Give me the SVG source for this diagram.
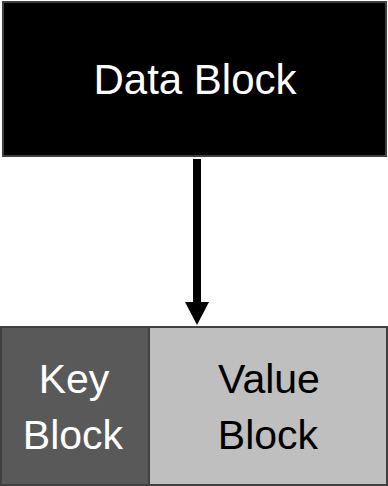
<svg xmlns="http://www.w3.org/2000/svg" width="388" height="486" viewBox="0 0 388 486">
  <style>
    .lbl { font-family: "Liberation Sans", Arial, sans-serif; font-size: 41px; text-anchor: middle; }
    .light { fill: #ffffff; }
    .dark { fill: #000000; }
    .box { stroke: #404040; stroke-width: 2; }
  </style>
  <defs>
    <!-- arrowhead starts where the shaft ends -->
    <marker id="head" markerUnits="userSpaceOnUse" markerWidth="24" markerHeight="24" refX="0" refY="12" orient="auto">
      <path d="M0,0 L23,12 L0,24 Z" fill="#000000"/>
    </marker>
  </defs>

  <g id="data-block">
    <rect class="box" x="3" y="2" width="383" height="154" fill="#000000" stroke="#7f7f7f"/>
    <text class="lbl light" x="195" y="94" style="font-size:42px">Data Block</text>
  </g>

  <g id="connectors">
    <line x1="197" y1="159" x2="197" y2="302" stroke="#000000" stroke-width="8" marker-end="url(#head)"/>
  </g>

  <g id="key-block">
    <rect class="box" x="1" y="327" width="148" height="158" fill="#595959"/>
    <text class="lbl light" x="74" y="393">Key</text>
    <text class="lbl light" x="73" y="449">Block</text>
  </g>

  <g id="value-block">
    <rect class="box" x="149" y="327" width="238" height="158" fill="#bfbfbf"/>
    <text class="lbl dark" x="269" y="393">Value</text>
    <text class="lbl dark" x="268" y="449">Block</text>
  </g>
</svg>
